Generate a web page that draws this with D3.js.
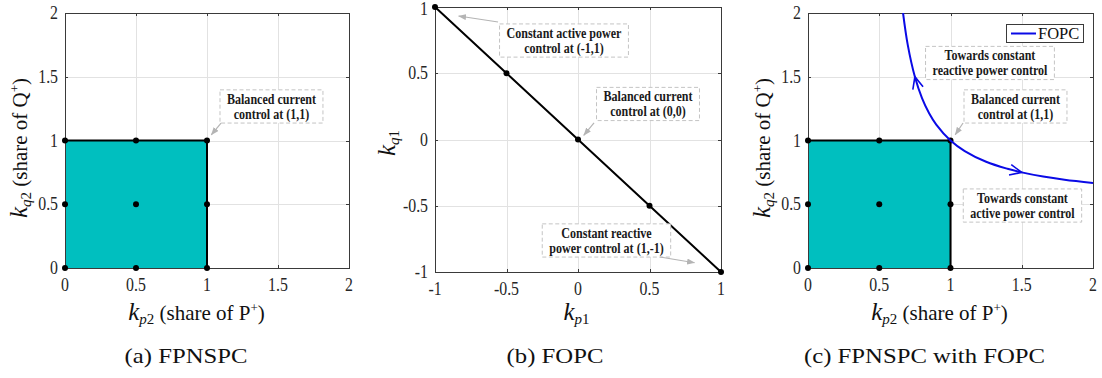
<!DOCTYPE html>
<html>
<head>
<meta charset="utf-8">
<script src="https://cdn.jsdelivr.net/npm/d3@7"></script>
<style>
  body { margin: 0; background: #fff; }
  svg { display: block; }
</style>
</head>
<body>
<svg id="fig" width="1102" height="378"></svg>
<script>
// ---------- data ----------
const ticks01 = [0, 0.5, 1, 1.5, 2];
const tickLabels01 = ["0", "0.5", "1", "1.5", "2"];
const ticksPM = [-1, -0.5, 0, 0.5, 1];
const tickLabelsPM = ["-1", "-0.5", "0", "0.5", "1"];

// FPNSPC feasible square in the (kp2, kq2) plane
const regionP = [0, 1, 1, 0];
const regionQ = [0, 0, 1, 1];
// upper/right border of the square
const borderP = [0, 1, 1];
const borderQ = [1, 1, 0];
// marked FPNSPC operating points
const gridPtsP = [0, 0.5, 1, 0, 0.5, 1, 0, 0.5, 1];
const gridPtsQ = [0, 0, 0, 0.5, 0.5, 0.5, 1, 1, 1];

// FOPC in the (kp1, kq1) plane
const fopcP1 = [-1, -0.5, 0, 0.5, 1];
const fopcQ1 = [1, 0.5, 0, -0.5, -1];

// FOPC trajectory in the (kp2, kq2) plane
const curveP2 = [0.667, 0.7, 0.75, 0.8, 0.85, 0.9, 1.0, 1.1, 1.25, 1.4, 1.5, 1.65, 1.8, 2.0];
const curveQ2 = [2.0, 1.75, 1.5, 1.333, 1.214, 1.125, 1.0, 0.917, 0.833, 0.778, 0.75, 0.717, 0.692, 0.667];
// direction markers: index on the trajectory and travel direction along it
const markerIdx = [2, 10];
const markerDir = [-1, 1];

const captions = ["(a) FPNSPC", "(b) FOPC", "(c) FPNSPC with FOPC"];
const legendLabels = ["FOPC"];

// annotation texts
const notesA = [["Balanced current", "control at (1,1)"]];
const notesB = [
  ["Constant active power", "control at (-1,1)"],
  ["Balanced current", "control at (0,0)"],
  ["Constant reactive", "power control at (1,-1)"]
];
const notesC = [
  ["Towards constant", "reactive power control"],
  ["Balanced current", "control at (1,1)"],
  ["Towards constant", "active power control"]
];

// ---------- layout ----------
const FONT = "'Liberation Serif', 'Times New Roman', serif";
const svg = d3.select("#fig");

const defs = svg.append("defs");
defs.append("marker")
  .attr("id", "grayHead")
  .attr("viewBox", "0 0 8 6")
  .attr("refX", 7.5).attr("refY", 3)
  .attr("markerWidth", 8).attr("markerHeight", 6)
  .attr("markerUnits", "userSpaceOnUse")
  .attr("orient", "auto")
  .append("path").attr("d", "M0,0 L8,3 L0,6 Z").attr("fill", "#b4b4b4");

function makePanel(cfg) {
  const x = d3.scaleLinear().domain(cfg.xd).range([cfg.left, cfg.right]);
  const y = d3.scaleLinear().domain(cfg.yd).range([cfg.bottom, cfg.top]);
  const g = svg.append("g");

  // grid
  g.append("g").selectAll("line").data(cfg.ticks).join("line")
    .attr("x1", d => Math.round(x(d)) + 0.5).attr("x2", d => Math.round(x(d)) + 0.5)
    .attr("y1", cfg.top).attr("y2", cfg.bottom)
    .attr("stroke", "#e2e2e2").attr("stroke-width", 1);
  g.append("g").selectAll("line").data(cfg.ticks).join("line")
    .attr("y1", d => Math.round(y(d)) + 0.5).attr("y2", d => Math.round(y(d)) + 0.5)
    .attr("x1", cfg.left).attr("x2", cfg.right)
    .attr("stroke", "#e2e2e2").attr("stroke-width", 1);

  const data = g.append("g");
  const axes = g.append("g");
  const over = g.append("g");

  // axes box with inward ticks on all sides
  axes.append("rect")
    .attr("x", cfg.left + 0.5).attr("y", cfg.top + 0.5)
    .attr("width", cfg.right - cfg.left).attr("height", cfg.bottom - cfg.top)
    .attr("fill", "none").attr("stroke", "#3a3a3a").attr("stroke-width", 1);

  const tl = 3;
  const tk = axes.append("g").attr("stroke", "#3a3a3a").attr("stroke-width", 1);
  cfg.ticks.forEach(t => {
    const px = Math.round(x(t)) + 0.5, py = Math.round(y(t)) + 0.5;
    tk.append("line").attr("x1", px).attr("x2", px).attr("y1", cfg.bottom).attr("y2", cfg.bottom - tl);
    tk.append("line").attr("x1", px).attr("x2", px).attr("y1", cfg.top).attr("y2", cfg.top + tl);
    tk.append("line").attr("y1", py).attr("y2", py).attr("x1", cfg.left).attr("x2", cfg.left + tl);
    tk.append("line").attr("y1", py).attr("y2", py).attr("x1", cfg.right).attr("x2", cfg.right - tl);
  });

  // tick labels
  cfg.ticks.forEach((t, i) => {
    axes.append("g").attr("transform", `translate(${x(t)},${cfg.bottom + 23}) scale(0.88,1)`)
      .append("text").attr("text-anchor", "middle")
      .attr("font-family", FONT).attr("font-size", 18).attr("fill", "#262626")
      .text(cfg.labels[i]);
    // keep the topmost label inside the drawing area
    const by = Math.max(y(t) + 6, 15);
    axes.append("g").attr("transform", `translate(${cfg.left - 7},${by}) scale(0.88,1)`)
      .append("text").attr("text-anchor", "end")
      .attr("font-family", FONT).attr("font-size", 18).attr("fill", "#262626")
      .text(cfg.labels[i]);
  });

  return { x, y, g, data, axes, over };
}

// axis label made of a large italic k, a subscript and an optional suffix
function axisLabel(tx, ty, rotate, sub, suffix, sup) {
  const t = svg.append("g")
    .attr("transform", `translate(${tx},${ty})` + (rotate ? " rotate(-90)" : ""))
    .append("text").attr("text-anchor", "middle")
    .attr("font-family", FONT).attr("fill", "#111");
  t.append("tspan").attr("font-size", 25).attr("font-style", "italic").text("k");
  t.append("tspan").attr("font-size", 15).attr("font-style", "italic").attr("dy", 4).text(sub[0]);
  t.append("tspan").attr("font-size", 15).text(sub[1]);
  if (suffix) {
    t.append("tspan").attr("font-size", 21).attr("dy", -4).text(" " + suffix);
    t.append("tspan").attr("font-size", 13).attr("dy", -8).text(sup);
    t.append("tspan").attr("font-size", 21).attr("dy", 8).text(")");
  }
}

function caption(cx, text) {
  svg.append("g").attr("transform", `translate(${cx},362.5) scale(1.15,1)`)
    .append("text").attr("text-anchor", "middle")
    .attr("font-family", FONT).attr("font-size", 21.5).attr("fill", "#111")
    .text(text);
}

// dashed annotation box with two lines of bold text, plus optional gray arrow
function note(P, lines, center, tail, tip) {
  const cx = P.x(center[0]), cy = P.y(center[1]);
  const sx = 0.83, lh = 14.6;
  const gg = P.over.append("g");
  const rect = gg.append("rect");
  let maxW = 0;
  lines.forEach((s, i) => {
    const t = gg.append("g")
      .attr("transform", `translate(${cx},${cy + (i - (lines.length - 1) / 2) * lh + 4.8}) scale(${sx},1)`)
      .append("text").attr("text-anchor", "middle")
      .attr("font-family", FONT).attr("font-size", 14.5).attr("font-weight", "bold")
      .attr("fill", "#1a1a1a").text(s);
    maxW = Math.max(maxW, t.node().getComputedTextLength() * sx);
  });
  const w = maxW + 14, h = lines.length * lh + 4;
  rect.attr("x", cx - w / 2).attr("y", cy - h / 2).attr("width", w).attr("height", h)
    .attr("fill", "#fff").attr("stroke", "#c4c4c4").attr("stroke-width", 1)
    .attr("stroke-dasharray", "4,2.5");
  if (tail) {
    P.over.append("line")
      .attr("x1", P.x(tail[0])).attr("y1", P.y(tail[1]))
      .attr("x2", P.x(tip[0])).attr("y2", P.y(tip[1]))
      .attr("stroke", "#b4b4b4").attr("stroke-width", 1.2)
      .attr("marker-end", "url(#grayHead)");
  }
}

function drawRegion(P) {
  const pts = regionP.map((p, i) => [P.x(p), P.y(regionQ[i])]);
  P.data.append("path").attr("d", d3.line()(pts) + "Z").attr("fill", "#00bfbf");
  const border = borderP.map((p, i) => [P.x(p), P.y(borderQ[i])]);
  P.over.append("path").attr("d", d3.line()(border))
    .attr("fill", "none").attr("stroke", "#000").attr("stroke-width", 2);
  P.over.append("g").selectAll("circle").data(gridPtsP).join("circle")
    .attr("cx", d => P.x(d)).attr("cy", (d, i) => P.y(gridPtsQ[i])).attr("r", 3).attr("fill", "#000");
}

// ---------- panel (a) ----------
const A = makePanel({ left: 65, right: 349, top: 13, bottom: 268, xd: [0, 2], yd: [0, 2],
  ticks: ticks01, labels: tickLabels01 });
drawRegion(A);
note(A, notesA[0], [1.454, 1.267], [1.099, 1.137], [1.03, 1.045]);
axisLabel(196.5, 320, false, ["p", "2"], "(share of P", "+");
axisLabel(27, 148, true, ["q", "2"], "(share of Q", "+");
caption(186, captions[0]);

// ---------- panel (b) ----------
const B = makePanel({ left: 435, right: 721, top: 7, bottom: 272, xd: [-1, 1], yd: [-1, 1],
  ticks: ticksPM, labels: tickLabelsPM });
const linePts = fopcP1.map((p, i) => [B.x(p), B.y(fopcQ1[i])]);
B.over.append("path").attr("d", d3.line()(linePts))
  .attr("fill", "none").attr("stroke", "#000").attr("stroke-width", 2);
B.over.append("g").selectAll("circle").data(fopcP1).join("circle")
  .attr("cx", d => B.x(d)).attr("cy", (d, i) => B.y(fopcQ1[i])).attr("r", 3).attr("fill", "#000");
note(B, notesB[0], [-0.098, 0.747], [-0.559, 0.887], [-0.835, 0.932]);
note(B, notesB[1], [0.4895, 0.268], [0.112, 0.125], [0.04, 0.032]);
note(B, notesB[2], [0.199, -0.762], [0.573, -0.887], [0.815, -0.93]);
axisLabel(576.5, 320, false, ["p", "1"]);
axisLabel(395, 143, true, ["q", "1"]);
caption(555, captions[1]);

// ---------- panel (c) ----------
const C = makePanel({ left: 808, right: 1093, top: 13, bottom: 268, xd: [0, 2], yd: [0, 2],
  ticks: ticks01, labels: tickLabels01 });
drawRegion(C);

defs.append("clipPath").attr("id", "clipC").append("rect")
  .attr("x", 808).attr("y", 13).attr("width", 285).attr("height", 255);
const curvePts = curveP2.map((p, i) => [C.x(p), C.y(curveQ2[i])]);
C.over.append("path").attr("clip-path", "url(#clipC)")
  .attr("d", d3.line().curve(d3.curveCatmullRom.alpha(0.5))(curvePts))
  .attr("fill", "none").attr("stroke", "#0a0ae6").attr("stroke-width", 2);

// travel-direction chevrons on the trajectory
markerIdx.forEach((k, j) => {
  const dir = markerDir[j];
  const a = curvePts[k - 1], b = curvePts[k + 1];
  let dx = b[0] - a[0], dy = b[1] - a[1];
  if (dir < 0) { dx = -dx; dy = -dy; }
  const th = Math.atan2(dy, dx), L = 13, al = 24 * Math.PI / 180;
  const tip = curvePts[k];
  const p1 = [tip[0] - L * Math.cos(th - al), tip[1] - L * Math.sin(th - al)];
  const p2 = [tip[0] - L * Math.cos(th + al), tip[1] - L * Math.sin(th + al)];
  C.over.append("path").attr("d", d3.line()([p1, tip, p2]))
    .attr("fill", "none").attr("stroke", "#0a0ae6").attr("stroke-width", 1.6);
});

note(C, notesC[0], [1.277, 1.608]);
note(C, notesC[1], [1.456, 1.267], [1.088, 1.137], [1.033, 1.045]);
note(C, notesC[2], [1.505, 0.49]);

// legend
const lg = C.over.append("g").attr("transform", `translate(${C.x(2) - 87},24)`);
lg.append("rect").attr("x", 0.5).attr("y", 0.5).attr("width", 77).attr("height", 18)
  .attr("fill", "#fff").attr("stroke", "#3a3a3a").attr("stroke-width", 1);
lg.append("line").attr("x1", 5).attr("x2", 30).attr("y1", 9.5).attr("y2", 9.5)
  .attr("stroke", "#0a0ae6").attr("stroke-width", 2);
lg.append("text").attr("x", 32).attr("y", 15)
  .attr("font-family", FONT).attr("font-size", 16.5).attr("fill", "#111")
  .text(legendLabels[0]);

axisLabel(939.5, 320, false, ["p", "2"], "(share of P", "+");
axisLabel(770, 148, true, ["q", "2"], "(share of Q", "+");
caption(924.5, captions[2]);
</script>
</body>
</html>
